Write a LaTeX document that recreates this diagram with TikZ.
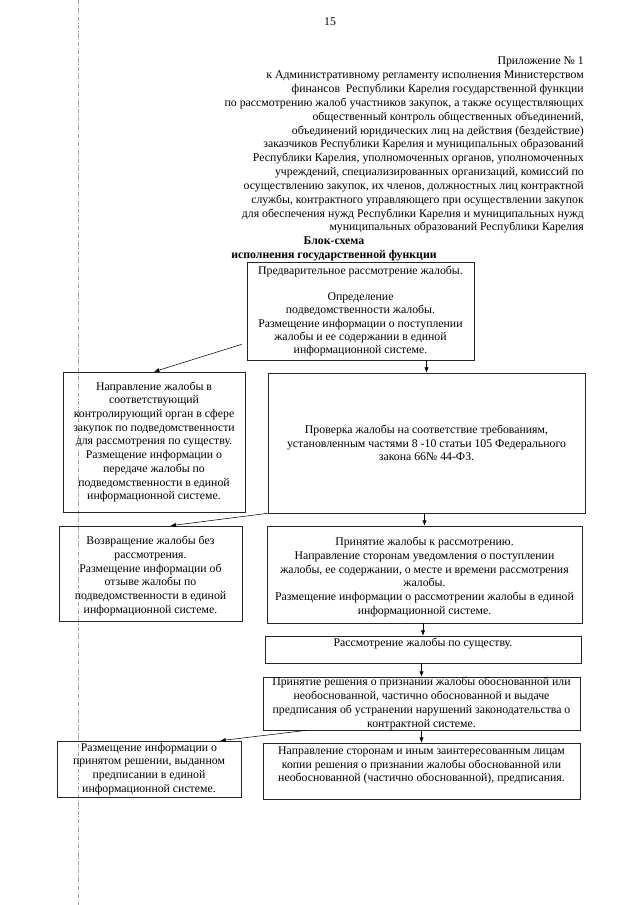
\documentclass[tikz,border=0pt]{standalone}
\usepackage{fontspec}
\setmainfont{Liberation Serif}
\usetikzlibrary{arrows.meta,calc}

\newcommand{\edx}{0.0328125cm}

\tikzset{
  blok/.style={draw=black!85,line width=0.6pt,align=center,inner sep=0pt,font=\fontsize{11}{12.8}\selectfont},
  strelka/.style={-{Latex[length=5pt,width=4pt]},line width=0.5pt},
  kant/.style={gray!70,line width=0.4pt,dash pattern=on 4pt off 1.5pt on 0.8pt off 1.5pt}
}

\begin{document}
\begin{tikzpicture}[x=\edx,y=-\edx]
        \useasboundingbox(0,0)rectangle(640,905);
        \draw[kant](78,0)--(78,905);

        \node[font=\fontsize{11}{13}\selectfont](nomer)at(330,22){15};
        \node[anchor=north east,inner sep=0pt,align=right,font=\fontsize{11}{12.9}\selectfont](prilozh)at(584,57){Приложение № 1\\
            к Административному регламенту исполнения Министерством\\
            финансов\ \ Республики Карелия государственной функции\\
            по рассмотрению жалоб участников закупок, а также осуществляющих\\
            общественный контроль общественных объединений,\\
            объединений юридических лиц на действия (бездействие)\\
            заказчиков Республики Карелия и муниципальных образований\\
            Республики Карелия, уполномоченных органов, уполномоченных\\
            учреждений, специализированных организаций, комиссий по\\
            осуществлению закупок, их членов, должностных лиц контрактной\\
            службы, контрактного управляющего при осуществлении закупок\\
            для обеспечения нужд Республики Карелия и муниципальных нужд\\
            муниципальных образований Республики Карелия};
        \node[align=center,inner sep=0pt,font=\bfseries\fontsize{11}{12.9}\selectfont](zagolovok)at(334,249){Блок-схема\\исполнения государственной функции};

        \node[blok,minimum width=227*\edx,minimum height=98*\edx,font=\fontsize{11}{12.4}\selectfont](predv)at(360.5,311){Предварительное рассмотрение жалобы.\\\mbox{}\\Определение\\подведомственности жалобы.\\Размещение информации о поступлении\\жалобы и ее содержании в единой\\информационной системе.};
        \node[blok,minimum width=182*\edx,minimum height=140*\edx](napravl)at(154,442){Направление жалобы в\\соответствующий\\контролирующий орган в сфере\\закупок по подведомственности\\для рассмотрения по существу.\\Размещение информации о\\передаче жалобы по\\подведомственности в единой\\информационной системе.};
        \node[blok,minimum width=317*\edx,minimum height=140*\edx](proverka)at(426.5,443){Проверка жалобы на соответствие требованиям,\\установленным частями 8 -10 статьи 105 Федерального\\закона 66№ 44-ФЗ.};
        \node[blok,minimum width=183*\edx,minimum height=95*\edx](vozvrat)at(150.5,573.5){\mbox{}\\Возвращение жалобы без\\рассмотрения.\\Размещение информации об\\отзыве жалобы по\\подведомственности в единой\\информационной системе.};
        \node[blok,minimum width=315*\edx,minimum height=97*\edx](prinyatie)at(424.5,574.5){\mbox{}\\Принятие жалобы к рассмотрению.\\Направление сторонам уведомления о поступлении\\жалобы, ее содержании, о месте и времени рассмотрения\\жалобы.\\Размещение информации о рассмотрении жалобы в единой\\информационной системе.};
        \node[blok,minimum width=316*\edx,minimum height=27*\edx](suschestvo)at(423,649.5){Рассмотрение жалобы по существу.\\\mbox{}};
        \node[blok,minimum width=317*\edx,minimum height=53*\edx](reshenie)at(421.5,703.5){Принятие решения о признании жалобы обоснованной или\\необоснованной, частично обоснованной и выдаче\\предписания об устранении нарушений законодательства о\\контрактной системе.};
        \node[blok,minimum width=184*\edx,minimum height=56*\edx](razmesch)at(149,769){Размещение информации о\\принятом решении, выданном\\предписании в единой\\информационной системе.};
        \node[blok,minimum width=317*\edx,minimum height=56*\edx](kopii)at(421.5,771){Направление сторонам и иным заинтересованным лицам\\копии решения о признании жалобы обоснованной или\\необоснованной (частично обоснованной), предписания.\\\mbox{}};

        \draw[strelka]($(predv.south west)+(-5,-16)$)--(napravl.north);
        \draw[strelka](proverka.north|-predv.south)--(proverka.north);
        \draw[strelka](proverka.south west)--($(vozvrat.north)+(20,0)$);
        \draw[strelka](prinyatie.north|-proverka.south)--(prinyatie.north);
        \draw[strelka](suschestvo.north|-prinyatie.south)--(suschestvo.north);
        \draw[strelka](reshenie.north|-suschestvo.south)--(reshenie.north);
        \draw[strelka]($(reshenie.south west)+(44,0)$)--($(razmesch.north east)+(-21,0)$);
        \draw[strelka](kopii.north|-reshenie.south)--(kopii.north);
\end{tikzpicture}
\end{document}
